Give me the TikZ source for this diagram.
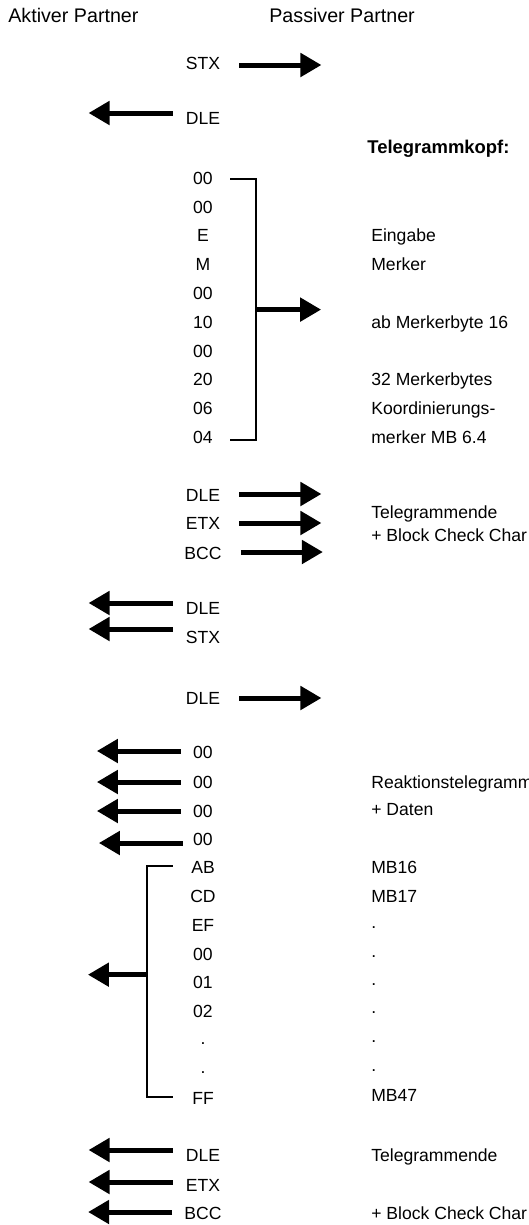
\documentclass[tikz,border=0pt]{standalone}
\usepackage{fontspec}
\setmainfont{Liberation Sans}
\usetikzlibrary{arrows.meta,calc}

\begin{document}
\begin{tikzpicture}[x=0.02cm, y=-0.02cm,
  lbl/.style={inner sep=0pt, text height=7.2pt, text depth=0pt,
              font=\fontsize{10}{12}\selectfont},
  info/.style={lbl, anchor=west},
  kopf/.style={inner sep=0pt, anchor=west, text height=8pt, text depth=0pt,
               font=\fontsize{11.2}{13}\selectfont},
  rarr/.style={-{Triangle[length=0.42cm, width=0.46cm]}, line width=0.1cm},
  klammer/.style={line width=0.04cm}
]
\useasboundingbox (0,0) rectangle (528,1225);

% Headings
\node[kopf] (aktiv)  at (8,15)   {Aktiver Partner};
\node[kopf] (passiv) at (269,15) {Passiver Partner};

% Verbindungsaufbau
\node[lbl] (stx1) at (203,63)  {STX};
\node[lbl] (dle1) at (203,118) {DLE};
\draw[rarr] ($(stx1.east)+(19,2)$) -- ++(82,0);
\draw[rarr] ($(dle1.west)+(-13,-5)$) -- ++(-84,0);

% Telegrammkopf
\node[info, font=\fontsize{10.5}{12}\selectfont\bfseries] (tkopf) at (367,147) {Telegrammkopf:};
\node[lbl] (k1)  at (203,178.0) {00};
\node[lbl] (k2)  at (203,206.8) {00};
\node[lbl] (k3)  at (203,235.6) {E};
\node[lbl] (k4)  at (203,264.4) {M};
\node[lbl] (k5)  at (203,293.2) {00};
\node[lbl] (k6)  at (203,322.0) {10};
\node[lbl] (k7)  at (203,350.8) {00};
\node[lbl] (k8)  at (203,379.6) {20};
\node[lbl] (k9)  at (203,408.4) {06};
\node[lbl] (k10) at (203,437.2) {04};

\node[info] (eing)  at (371,235.6) {Eingabe};
\node[info] (merk)  at (371,264.4) {Merker};
\node[info] (abmb)  at (371,322.0) {ab Merkerbyte 16};
\node[info] (anz)   at (371,379.6) {32 Merkerbytes};
\node[info] (koord) at (371,408.4) {Koordinierungs-};
\node[info] (kmb)   at (371,437.2) {merker MB 6.4};

\draw[klammer] ($(k1.east)+(17,1)$) -- ++(26,0) coordinate (kro) |- ($(k10.east)+(17,3)$) coordinate (kru);
\draw[rarr] ($(kro)!0.5!(kro |- kru)$) -- ++(65,0);

% Telegrammende
\node[lbl] (dle2) at (203,495) {DLE};
\node[lbl] (etx1) at (203,523) {ETX};
\node[lbl] (bcc1) at (203,553) {BCC};
\draw[rarr] ($(dle2.east)+(19,-1)$) -- ++(82,0);
\draw[rarr] ($(etx1.east)+(19,0)$)  -- ++(82,0);
\draw[rarr] ($(bcc1.east)+(19,-1)$) -- ++(82,0);
\node[info] (tende1) at (371,512) {Telegrammende};
\node[info] (bcc1t)  at (371,535) {+ Block Check Char};

% Quittung
\node[lbl] (dle3) at (203,608) {DLE};
\node[lbl] (stx2) at (203,637) {STX};
\draw[rarr] ($(dle3.west)+(-13,-5)$) -- ++(-84,0);
\draw[rarr] ($(stx2.west)+(-13,-8)$) -- ++(-84,0);

\node[lbl] (dle4) at (203,698) {DLE};
\draw[rarr] ($(dle4.east)+(19,0)$) -- ++(82,0);

% Reaktionstelegramm
\node[lbl] (r1) at (203,752) {00};
\node[lbl] (r2) at (203,782) {00};
\node[lbl] (r3) at (203,811) {00};
\node[lbl] (r4) at (203,839) {00};
\draw[rarr] ($(r1.west)+(-12,-1)$) -- ++(-84,0);
\draw[rarr] ($(r2.west)+(-12,0)$)  -- ++(-84,0);
\draw[rarr] ($(r3.west)+(-12,0)$)  -- ++(-84,0);
\draw[rarr] ($(r4.west)+(-10,4)$)  -- ++(-84,0);
\node[info] (reakt) at (371,782) {Reaktionstelegramm};
\node[info] (daten) at (371,809) {+ Daten};

% Daten
\node[lbl] (d1) at (203,867.0)  {AB};
\node[lbl] (d2) at (203,895.9)  {CD};
\node[lbl] (d3) at (203,924.8)  {EF};
\node[lbl] (d4) at (203,953.7)  {00};
\node[lbl] (d5) at (203,982.6)  {01};
\node[lbl] (d6) at (203,1011.5) {02};
\node[lbl] (d7) at (203,1038.4) {.};
\node[lbl] (d8) at (203,1067.3) {.};
\node[lbl] (d9) at (203,1098.2) {FF};

\node[info] (mb16) at (371,867.0)  {MB16};
\node[info] (mb17) at (371,895.9)  {MB17};
\node[info] (p1)   at (371,921.8)  {.};
\node[info] (p2)   at (371,950.7)  {.};
\node[info] (p3)   at (371,979.6)  {.};
\node[info] (p4)   at (371,1007.5) {.};
\node[info] (p5)   at (371,1036.4) {.};
\node[info] (p6)   at (371,1065.3) {.};
\node[info] (mb47) at (371,1095.2) {MB47};

\draw[klammer] ($(d1.west)+(-18,-1)$) -- ++(-26,0) coordinate (klo) |- ($(d9.west)+(-19,-1)$) coordinate (klu);
\draw[rarr] ($(klo)!0.47!(klo |- klu)$) -- ++(-59,0);

% Telegrammende
\node[lbl] (dle5) at (203,1155) {DLE};
\node[lbl] (etx2) at (203,1185) {ETX};
\node[lbl] (bcc2) at (203,1213) {BCC};
\draw[rarr] ($(dle5.west)+(-13,-5)$) -- ++(-84,0);
\draw[rarr] ($(etx2.west)+(-13,-3)$) -- ++(-84,0);
\draw[rarr] ($(bcc2.west)+(-12,-1)$) -- ++(-84,0);
\node[info] (tende2) at (371,1155) {Telegrammende};
\node[info] (bcc2t)  at (371,1213) {+ Block Check Char};
\end{tikzpicture}
\end{document}
